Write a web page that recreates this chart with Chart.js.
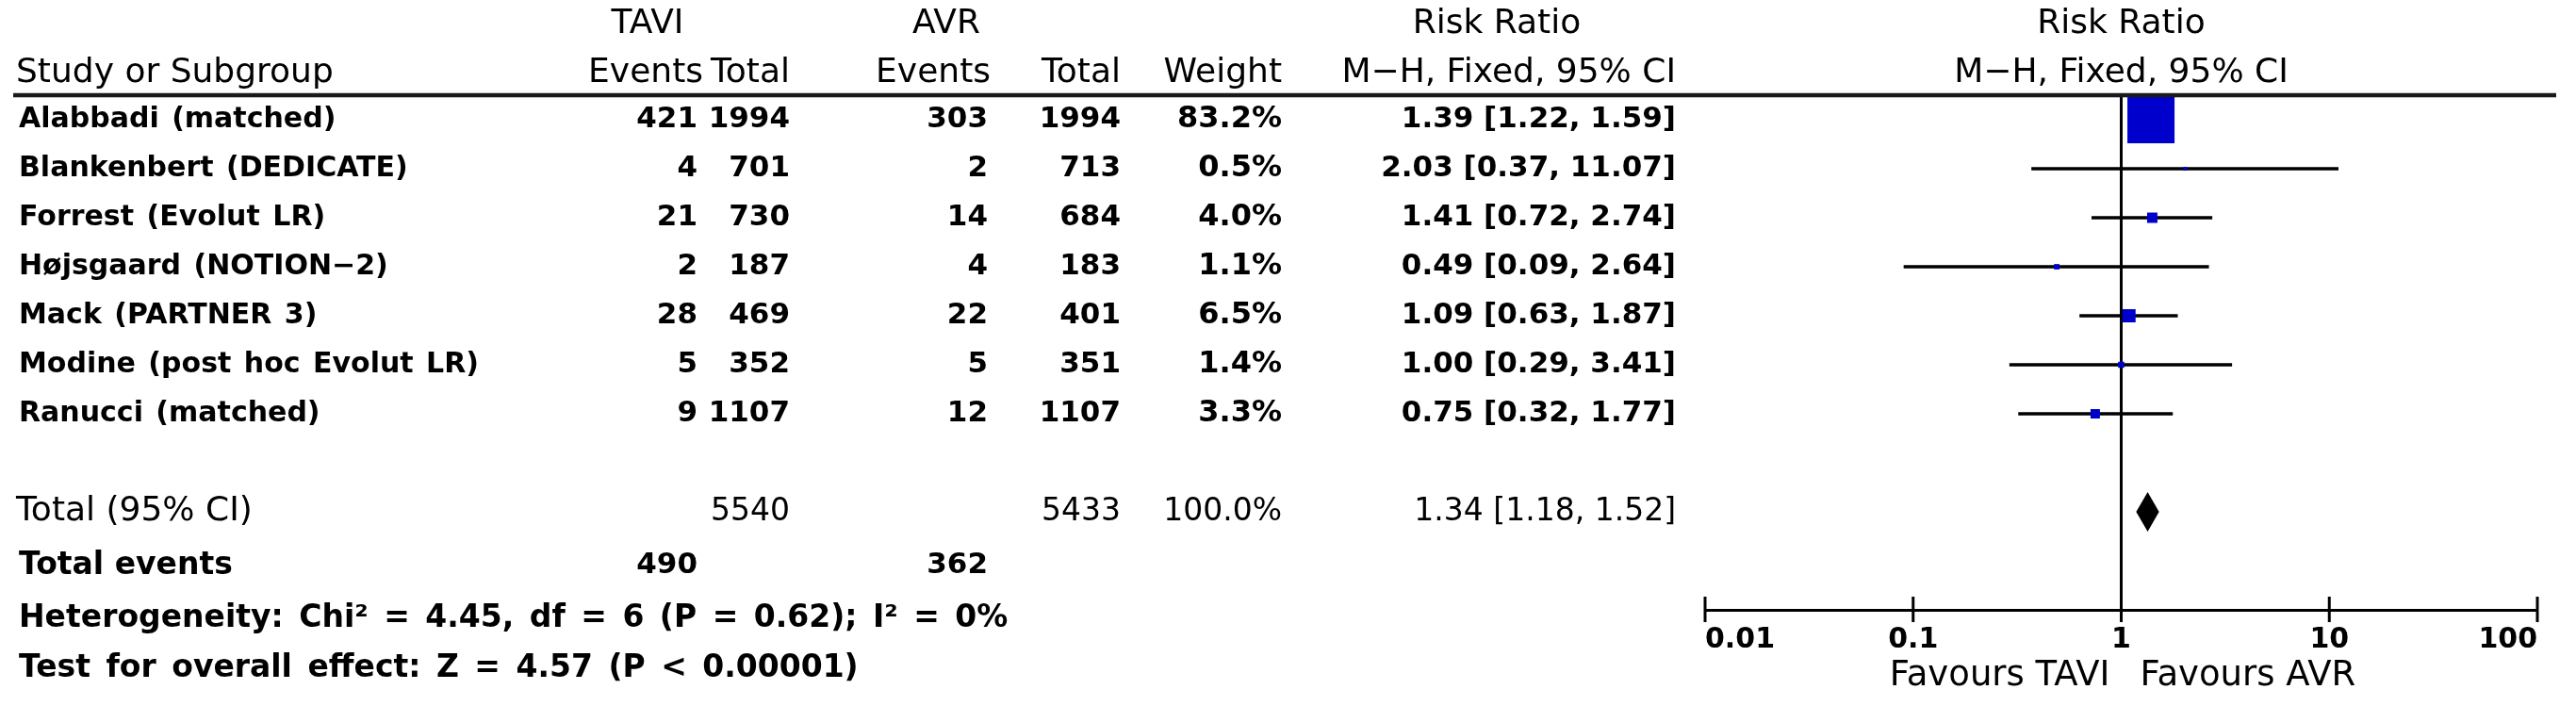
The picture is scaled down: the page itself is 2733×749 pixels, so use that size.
<!DOCTYPE html>
<html>
<head>
<meta charset="utf-8">
<title>Risk Ratio - TAVI vs AVR</title>
<script src="https://cdn.jsdelivr.net/npm/chart.js@4.4.0/dist/chart.umd.min.js"></script>
<style>
  html, body { margin: 0; padding: 0; background: #fff; }
  #wrap { width: 2733px; height: 749px; }
</style>
</head>
<body>
<div id="wrap"><canvas id="forest" width="2733" height="749"></canvas></div>
<script>
'use strict';

// study data
const studies = ['Alabbadi (matched)', 'Blankenbert (DEDICATE)', 'Forrest (Evolut LR)', 'Højsgaard (NOTION−2)', 'Mack (PARTNER 3)', 'Modine (post hoc Evolut LR)', 'Ranucci (matched)'];
const taviEvents = [421, 4, 21, 2, 28, 5, 9];
const taviTotal = [1994, 701, 730, 187, 469, 352, 1107];
const avrEvents = [303, 2, 14, 4, 22, 5, 12];
const avrTotal = [1994, 713, 684, 183, 401, 351, 1107];
const weights = [83.2, 0.5, 4.0, 1.1, 6.5, 1.4, 3.3];
const riskRatio = [1.39, 2.03, 1.41, 0.49, 1.09, 1.00, 0.75];
const ciLow = [1.22, 0.37, 0.72, 0.09, 0.63, 0.29, 0.32];
const ciHigh = [1.59, 11.07, 2.74, 2.64, 1.87, 3.41, 1.77];

// pooled result
const totalTavi = 5540;
const totalAvr = 5433;
const totalEventsTavi = 490;
const totalEventsAvr = 362;
const pooledRR = 1.34;
const pooledLow = 1.18;
const pooledHigh = 1.52;
const heterogeneityText = 'Heterogeneity: Chi² = 4.45, df = 6 (P = 0.62); I² = 0%';
const overallText = 'Test for overall effect: Z = 4.57 (P < 0.00001)';

const tickValues = [0.01, 0.1, 1, 10, 100];
const tickLabels = ['0.01', '0.1', '1', '10', '100'];

// table column anchors (px)
const colStudy = 20;
const colTaviEv = 740;
const colTaviTot = 838;
const colAvrEv = 1048;
const colAvrTot = 1189;
const colWeight = 1360;
const colCI = 1778;

const FAM = '"DejaVu Sans", sans-serif';
const fontHead = '36px ' + FAM;
const fontCaption = '37px ' + FAM;
const fontName = 'bold 30px ' + FAM;
const fontFoot = 'bold 33px ' + FAM;
const fontCount = 'bold 31px ' + FAM;
const fontWeight = 'bold 32px ' + FAM;
const fontCI = 'bold 31px ' + FAM;
const fontTotalNum = '33px ' + FAM;

const fmt = v => v.toFixed(2);
const ciText = (rr, lo, hi) => `${fmt(rr)} [${fmt(lo)}, ${fmt(hi)}]`;

function txt(ctx, s, x, y, align, font, spacing){
  ctx.font = font;
  ctx.textAlign = align;
  ctx.textBaseline = 'middle';
  ctx.wordSpacing = spacing || '0px';
  ctx.fillText(s, x, y);
  ctx.wordSpacing = '0px';
}

// whiskers + line of no effect, under the squares
const underPlugin = {
  id: 'under',
  beforeDatasetsDraw(chart){
    const {ctx, chartArea, scales: {x, y}} = chart;
    ctx.save();
    ctx.strokeStyle = '#000';
    ctx.lineWidth = 3;
    ctx.beginPath();
    ctx.moveTo(x.getPixelForValue(1), chartArea.top);
    ctx.lineTo(x.getPixelForValue(1), chartArea.bottom);
    ctx.stroke();

    ctx.lineWidth = 3.5;
    studies.forEach((s, i) => {
      const py = y.getPixelForValue(i + 1);
      ctx.beginPath();
      ctx.moveTo(x.getPixelForValue(ciLow[i]), py);
      ctx.lineTo(x.getPixelForValue(ciHigh[i]), py);
      ctx.stroke();
    });
    ctx.restore();
  }
};

const tablePlugin = {
  id: 'table',
  afterDraw(chart){
    const {ctx, chartArea, scales: {x, y}} = chart;
    const x1 = x.getPixelForValue(1);
    ctx.save();
    ctx.fillStyle = '#000';

    // header rule
    ctx.strokeStyle = '#1a1a1a';
    ctx.lineWidth = 4.5;
    ctx.beginPath();
    ctx.moveTo(14, chartArea.top);
    ctx.lineTo(2712, chartArea.top);
    ctx.stroke();

    // tick marks cross the axis line
    ctx.strokeStyle = '#000';
    ctx.lineWidth = 3;
    tickValues.forEach(v => {
      const px = x.getPixelForValue(v);
      ctx.beginPath();
      ctx.moveTo(px, chartArea.bottom - 14);
      ctx.lineTo(px, chartArea.bottom + 13);
      ctx.stroke();
    });

    // diamond for the pooled estimate
    const dy = y.getPixelForValue(9);
    ctx.beginPath();
    ctx.moveTo(x.getPixelForValue(pooledLow), dy);
    ctx.lineTo(x.getPixelForValue(pooledRR), dy - 21);
    ctx.lineTo(x.getPixelForValue(pooledHigh), dy);
    ctx.lineTo(x.getPixelForValue(pooledRR), dy + 21);
    ctx.closePath();
    ctx.fill();

    // headers
    const h1 = y.getPixelForValue(-1) + 3;
    const h2 = y.getPixelForValue(0) + 3;
    txt(ctx, 'TAVI', 687, h1, 'center', fontHead);
    txt(ctx, 'AVR', 1004, h1, 'center', fontHead);
    txt(ctx, 'Risk Ratio', 1588, h1, 'center', fontHead);
    txt(ctx, 'Risk Ratio', x1, h1, 'center', fontHead);
    txt(ctx, 'Study or Subgroup', colStudy - 3, h2, 'left', fontHead);
    txt(ctx, 'Events', colTaviEv + 6, h2, 'right', fontHead);
    txt(ctx, 'Total', colTaviTot, h2, 'right', fontHead);
    txt(ctx, 'Events', colAvrEv + 3, h2, 'right', fontHead);
    txt(ctx, 'Total', colAvrTot, h2, 'right', fontHead);
    txt(ctx, 'Weight', colWeight, h2, 'right', fontHead);
    txt(ctx, 'M−H, Fixed, 95% CI', colCI, h2, 'right', fontHead);
    txt(ctx, 'M−H, Fixed, 95% CI', x1, h2, 'center', fontHead);

    // study rows
    studies.forEach((s, i) => {
      const py = y.getPixelForValue(i + 1);
      txt(ctx, s, colStudy, py, 'left', fontName, '3px');
      txt(ctx, String(taviEvents[i]), colTaviEv, py, 'right', fontCount);
      txt(ctx, String(taviTotal[i]), colTaviTot, py, 'right', fontCount);
      txt(ctx, String(avrEvents[i]), colAvrEv, py, 'right', fontCount);
      txt(ctx, String(avrTotal[i]), colAvrTot, py, 'right', fontCount);
      txt(ctx, weights[i].toFixed(1) + '%', colWeight, py, 'right', fontWeight);
      txt(ctx, ciText(riskRatio[i], ciLow[i], ciHigh[i]), colCI, py, 'right', fontCI);
    });

    // totals
    const ty = y.getPixelForValue(9);
    txt(ctx, 'Total (95% CI)', colStudy - 3, ty, 'left', fontHead);
    txt(ctx, String(totalTavi), colTaviTot, ty, 'right', fontTotalNum);
    txt(ctx, String(totalAvr), colAvrTot, ty, 'right', fontTotalNum);
    txt(ctx, '100.0%', colWeight, ty, 'right', fontTotalNum);
    txt(ctx, ciText(pooledRR, pooledLow, pooledHigh), colCI, ty, 'right', fontTotalNum);

    const ey = y.getPixelForValue(10.1);
    txt(ctx, 'Total events', colStudy, ey, 'left', fontFoot);
    txt(ctx, String(totalEventsTavi), colTaviEv, ey, 'right', fontCount);
    txt(ctx, String(totalEventsAvr), colAvrEv, ey, 'right', fontCount);
    txt(ctx, heterogeneityText, colStudy, y.getPixelForValue(11.18), 'left', fontFoot, '5px');
    txt(ctx, overallText, colStudy, y.getPixelForValue(12.2), 'left', fontFoot, '5px');

    // axis captions
    const fy = 717;
    txt(ctx, 'Favours TAVI', x1 - 12, fy, 'right', fontCaption);
    txt(ctx, 'Favours AVR', x1 + 20, fy, 'left', fontCaption);
    ctx.restore();
  }
};

// square side follows the study weight
const maxW = Math.max(...weights);
const squareRadius = weights.map(w => 50 * Math.sqrt(w / maxW) / (2 * Math.SQRT1_2));

const ctxForest = document.getElementById('forest').getContext('2d');
const chart = new Chart(ctxForest, {
  type: 'scatter',
  data: {
    datasets: [{
      label: 'Risk Ratio',
      data: riskRatio.map((v, i) => ({x: v, y: i + 1})),
      pointStyle: 'rect',
      pointRadius: squareRadius,
      pointHoverRadius: squareRadius,
      backgroundColor: 'rgb(0, 0, 204)',
      borderWidth: 0
    }]
  },
  options: {
    responsive: false,
    animation: false,
    devicePixelRatio: 1,
    layout: { padding: { left: 1809, right: 41, top: 101, bottom: 0 } },
    plugins: { legend: { display: false }, tooltip: { enabled: false } },
    scales: {
      x: {
        type: 'logarithmic',
        position: 'bottom',
        min: 0.01,
        max: 100,
        afterBuildTicks: s => { s.ticks = tickValues.map(v => ({value: v})); },
        afterFit: s => { s.height = 102; },
        ticks: {
          align: 'inner',
          autoSkip: false,
          maxRotation: 0,
          padding: 6,
          color: '#000',
          font: { family: FAM, size: 30, weight: 'bold' },
          callback: (v, i) => tickLabels[i]
        },
        grid: { display: false },
        border: { display: true, color: '#000', width: 3 }
      },
      y: {
        type: 'linear',
        display: false,
        reverse: true,
        min: 0.5,
        max: 11
      }
    }
  },
  plugins: [underPlugin, tablePlugin]
});
</script>
</body>
</html>
